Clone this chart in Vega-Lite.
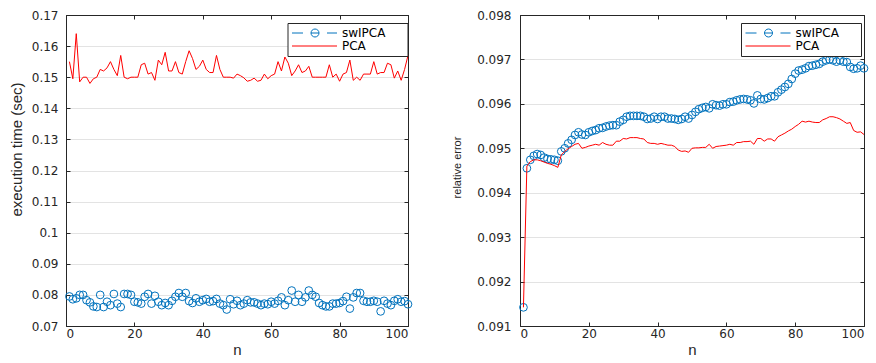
{
  "$schema": "https://vega.github.io/schema/vega-lite/v6.json",
  "background": "white",
  "padding": {"left": 8, "top": 8, "right": 0, "bottom": 0},
  "spacing": 36,
  "resolve": {"scale": {"color": "independent"}, "legend": {"color": "independent"}},
  "config": {
    "view": {"stroke": "#262626", "strokeWidth": 1},
    "axis": {
      "labelFont": "DejaVu Sans", "labelFontSize": 12, "labelColor": "#262626",
      "domainColor": "#262626", "tickColor": "#262626", "gridColor": "#e3e3e3",
      "titleColor": "#262626", "titleFont": "Liberation Sans", "titleFontWeight": "normal",
      "tickSize": -4, "labelAngle": 0
    },
    "legend": {
      "title": null, "orient": "none", "legendY": 8,
      "strokeColor": "#262626", "fillColor": "white", "padding": 4,
      "labelFont": "DejaVu Sans", "labelFontSize": 12, "labelColor": "#000000",
      "labelOffset": 38.5, "symbolSize": 100, "rowPadding": 1
    }
  },
  "datasets": {
    "time": [
      {"n":1,"swIPCA":0.0795,"PCA":0.155},{"n":2,"swIPCA":0.0786,"PCA":0.1495},{"n":3,"swIPCA":0.0789,"PCA":0.164},{"n":4,"swIPCA":0.080,"PCA":0.1485},{"n":5,"swIPCA":0.080,"PCA":0.150},
      {"n":6,"swIPCA":0.0783,"PCA":0.150},{"n":7,"swIPCA":0.0776,"PCA":0.148},{"n":8,"swIPCA":0.0763,"PCA":0.1495},{"n":9,"swIPCA":0.0761,"PCA":0.150},{"n":10,"swIPCA":0.080,"PCA":0.1525},
      {"n":11,"swIPCA":0.0761,"PCA":0.152},{"n":12,"swIPCA":0.0778,"PCA":0.153},{"n":13,"swIPCA":0.0767,"PCA":0.155},{"n":14,"swIPCA":0.0803,"PCA":0.1525},{"n":15,"swIPCA":0.0772,"PCA":0.1505},
      {"n":16,"swIPCA":0.0761,"PCA":0.157},{"n":17,"swIPCA":0.0803,"PCA":0.150},{"n":18,"swIPCA":0.0803,"PCA":0.1495},{"n":19,"swIPCA":0.080,"PCA":0.150},{"n":20,"swIPCA":0.0778,"PCA":0.150},
      {"n":21,"swIPCA":0.0776,"PCA":0.150},{"n":22,"swIPCA":0.0772,"PCA":0.154},{"n":23,"swIPCA":0.0794,"PCA":0.1545},{"n":24,"swIPCA":0.0803,"PCA":0.151},{"n":25,"swIPCA":0.0772,"PCA":0.1515},
      {"n":26,"swIPCA":0.0797,"PCA":0.149},{"n":27,"swIPCA":0.0778,"PCA":0.1555},{"n":28,"swIPCA":0.0767,"PCA":0.154},{"n":29,"swIPCA":0.0774,"PCA":0.158},{"n":30,"swIPCA":0.0767,"PCA":0.152},
      {"n":31,"swIPCA":0.0781,"PCA":0.152},{"n":32,"swIPCA":0.0794,"PCA":0.155},{"n":33,"swIPCA":0.0806,"PCA":0.1515},{"n":34,"swIPCA":0.0794,"PCA":0.151},{"n":35,"swIPCA":0.0806,"PCA":0.155},
      {"n":36,"swIPCA":0.078,"PCA":0.1585},{"n":37,"swIPCA":0.0774,"PCA":0.156},{"n":38,"swIPCA":0.0789,"PCA":0.1525},{"n":39,"swIPCA":0.0778,"PCA":0.1535},{"n":40,"swIPCA":0.0783,"PCA":0.1555},
      {"n":41,"swIPCA":0.0787,"PCA":0.1525},{"n":42,"swIPCA":0.0778,"PCA":0.1515},{"n":43,"swIPCA":0.078,"PCA":0.1515},{"n":44,"swIPCA":0.0787,"PCA":0.157},{"n":45,"swIPCA":0.0772,"PCA":0.1525},
      {"n":46,"swIPCA":0.0767,"PCA":0.150},{"n":47,"swIPCA":0.0753,"PCA":0.150},{"n":48,"swIPCA":0.0786,"PCA":0.150},{"n":49,"swIPCA":0.077,"PCA":0.1497},{"n":50,"swIPCA":0.0781,"PCA":0.151},
      {"n":51,"swIPCA":0.0767,"PCA":0.1505},{"n":52,"swIPCA":0.0772,"PCA":0.1498},{"n":53,"swIPCA":0.0783,"PCA":0.1487},{"n":54,"swIPCA":0.0776,"PCA":0.149},{"n":55,"swIPCA":0.0776,"PCA":0.1497},
      {"n":56,"swIPCA":0.0772,"PCA":0.1487},{"n":57,"swIPCA":0.0767,"PCA":0.149},{"n":58,"swIPCA":0.0772,"PCA":0.151},{"n":59,"swIPCA":0.077,"PCA":0.1495},{"n":60,"swIPCA":0.0778,"PCA":0.1505},
      {"n":61,"swIPCA":0.0772,"PCA":0.151},{"n":62,"swIPCA":0.0781,"PCA":0.155},{"n":63,"swIPCA":0.0792,"PCA":0.152},{"n":64,"swIPCA":0.0767,"PCA":0.1565},{"n":65,"swIPCA":0.0783,"PCA":0.1545},
      {"n":66,"swIPCA":0.0814,"PCA":0.1505},{"n":67,"swIPCA":0.0778,"PCA":0.152},{"n":68,"swIPCA":0.080,"PCA":0.154},{"n":69,"swIPCA":0.0778,"PCA":0.1515},{"n":70,"swIPCA":0.0792,"PCA":0.152},
      {"n":71,"swIPCA":0.0814,"PCA":0.1535},{"n":72,"swIPCA":0.080,"PCA":0.150},{"n":73,"swIPCA":0.0794,"PCA":0.150},{"n":74,"swIPCA":0.0774,"PCA":0.150},{"n":75,"swIPCA":0.0767,"PCA":0.150},
      {"n":76,"swIPCA":0.0763,"PCA":0.150},{"n":77,"swIPCA":0.0763,"PCA":0.154},{"n":78,"swIPCA":0.0772,"PCA":0.150},{"n":79,"swIPCA":0.0772,"PCA":0.151},{"n":80,"swIPCA":0.0774,"PCA":0.1487},
      {"n":81,"swIPCA":0.078,"PCA":0.151},{"n":82,"swIPCA":0.0794,"PCA":0.1515},{"n":83,"swIPCA":0.0756,"PCA":0.1555},{"n":84,"swIPCA":0.0792,"PCA":0.149},{"n":85,"swIPCA":0.0806,"PCA":0.150},
      {"n":86,"swIPCA":0.0806,"PCA":0.149},{"n":87,"swIPCA":0.0781,"PCA":0.151},{"n":88,"swIPCA":0.0778,"PCA":0.151},{"n":89,"swIPCA":0.0778,"PCA":0.151},{"n":90,"swIPCA":0.0781,"PCA":0.155},
      {"n":91,"swIPCA":0.0778,"PCA":0.151},{"n":92,"swIPCA":0.0747,"PCA":0.1515},{"n":93,"swIPCA":0.0781,"PCA":0.1515},{"n":94,"swIPCA":0.0772,"PCA":0.1545},{"n":95,"swIPCA":0.0767,"PCA":0.154},
      {"n":96,"swIPCA":0.0781,"PCA":0.1497},{"n":97,"swIPCA":0.0786,"PCA":0.152},{"n":98,"swIPCA":0.0778,"PCA":0.149},{"n":99,"swIPCA":0.078,"PCA":0.1525},{"n":100,"swIPCA":0.077,"PCA":0.157}
    ],
    "err": [
      {"n":1,"swIPCA":0.09142,"PCA":0.09142},{"n":2,"swIPCA":0.09455,"PCA":0.0946},{"n":3,"swIPCA":0.09474,"PCA":0.0947},{"n":4,"swIPCA":0.09483,"PCA":0.09474},{"n":5,"swIPCA":0.09487,"PCA":0.09474},
      {"n":6,"swIPCA":0.09485,"PCA":0.09472},{"n":7,"swIPCA":0.09479,"PCA":0.09469},{"n":8,"swIPCA":0.09476,"PCA":0.09466},{"n":9,"swIPCA":0.09475,"PCA":0.09464},{"n":10,"swIPCA":0.09474,"PCA":0.09461},
      {"n":11,"swIPCA":0.09472,"PCA":0.09457},{"n":12,"swIPCA":0.09493,"PCA":0.09485},{"n":13,"swIPCA":0.0950,"PCA":0.09493},{"n":14,"swIPCA":0.09511,"PCA":0.09499},{"n":15,"swIPCA":0.09519,"PCA":0.09504},
      {"n":16,"swIPCA":0.0953,"PCA":0.09509},{"n":17,"swIPCA":0.09536,"PCA":0.09511},{"n":18,"swIPCA":0.09531,"PCA":0.095},{"n":19,"swIPCA":0.0953,"PCA":0.09502},{"n":20,"swIPCA":0.09536,"PCA":0.09505},
      {"n":21,"swIPCA":0.09539,"PCA":0.09507},{"n":22,"swIPCA":0.09541,"PCA":0.09509},{"n":23,"swIPCA":0.09545,"PCA":0.09507},{"n":24,"swIPCA":0.09546,"PCA":0.09513},{"n":25,"swIPCA":0.09549,"PCA":0.09509},
      {"n":26,"swIPCA":0.09551,"PCA":0.09507},{"n":27,"swIPCA":0.09552,"PCA":0.09507},{"n":28,"swIPCA":0.09552,"PCA":0.09516},{"n":29,"swIPCA":0.0956,"PCA":0.09516},{"n":30,"swIPCA":0.09564,"PCA":0.09522},
      {"n":31,"swIPCA":0.09571,"PCA":0.09521},{"n":32,"swIPCA":0.09573,"PCA":0.09524},{"n":33,"swIPCA":0.09573,"PCA":0.09524},{"n":34,"swIPCA":0.09573,"PCA":0.09524},{"n":35,"swIPCA":0.09573,"PCA":0.09522},
      {"n":36,"swIPCA":0.09571,"PCA":0.09521},{"n":37,"swIPCA":0.09566,"PCA":0.09513},{"n":38,"swIPCA":0.09567,"PCA":0.09511},{"n":39,"swIPCA":0.09571,"PCA":0.09511},{"n":40,"swIPCA":0.09566,"PCA":0.09509},
      {"n":41,"swIPCA":0.09571,"PCA":0.09511},{"n":42,"swIPCA":0.09571,"PCA":0.09509},{"n":43,"swIPCA":0.09567,"PCA":0.09507},{"n":44,"swIPCA":0.09567,"PCA":0.09507},{"n":45,"swIPCA":0.09566,"PCA":0.09504},
      {"n":46,"swIPCA":0.09564,"PCA":0.09496},{"n":47,"swIPCA":0.09566,"PCA":0.09493},{"n":48,"swIPCA":0.09571,"PCA":0.09494},{"n":49,"swIPCA":0.09567,"PCA":0.09491},{"n":50,"swIPCA":0.09575,"PCA":0.095},
      {"n":51,"swIPCA":0.09582,"PCA":0.09501},{"n":52,"swIPCA":0.09588,"PCA":0.09501},{"n":53,"swIPCA":0.09591,"PCA":0.09502},{"n":54,"swIPCA":0.09593,"PCA":0.09502},{"n":55,"swIPCA":0.0959,"PCA":0.09509},
      {"n":56,"swIPCA":0.09599,"PCA":0.095},{"n":57,"swIPCA":0.09597,"PCA":0.09504},{"n":58,"swIPCA":0.09596,"PCA":0.09505},{"n":59,"swIPCA":0.09599,"PCA":0.09506},{"n":60,"swIPCA":0.09599,"PCA":0.09507},
      {"n":61,"swIPCA":0.09604,"PCA":0.09509},{"n":62,"swIPCA":0.09605,"PCA":0.09507},{"n":63,"swIPCA":0.09608,"PCA":0.09513},{"n":64,"swIPCA":0.0961,"PCA":0.09513},{"n":65,"swIPCA":0.09611,"PCA":0.09515},
      {"n":66,"swIPCA":0.0961,"PCA":0.09515},{"n":67,"swIPCA":0.09608,"PCA":0.09516},{"n":68,"swIPCA":0.09601,"PCA":0.09509},{"n":69,"swIPCA":0.09619,"PCA":0.09522},{"n":70,"swIPCA":0.09611,"PCA":0.09522},
      {"n":71,"swIPCA":0.0961,"PCA":0.09516},{"n":72,"swIPCA":0.09613,"PCA":0.09521},{"n":73,"swIPCA":0.09617,"PCA":0.09521},{"n":74,"swIPCA":0.09617,"PCA":0.09516},{"n":75,"swIPCA":0.09626,"PCA":0.09526},
      {"n":76,"swIPCA":0.09632,"PCA":0.0953},{"n":77,"swIPCA":0.09638,"PCA":0.09534},{"n":78,"swIPCA":0.09645,"PCA":0.09539},{"n":79,"swIPCA":0.09656,"PCA":0.09543},{"n":80,"swIPCA":0.09668,"PCA":0.09549},
      {"n":81,"swIPCA":0.09675,"PCA":0.09554},{"n":82,"swIPCA":0.09677,"PCA":0.09561},{"n":83,"swIPCA":0.0968,"PCA":0.09559},{"n":84,"swIPCA":0.09685,"PCA":0.09561},{"n":85,"swIPCA":0.09686,"PCA":0.09559},
      {"n":86,"swIPCA":0.09688,"PCA":0.09558},{"n":87,"swIPCA":0.0969,"PCA":0.09558},{"n":88,"swIPCA":0.09695,"PCA":0.09564},{"n":89,"swIPCA":0.09698,"PCA":0.09567},{"n":90,"swIPCA":0.097,"PCA":0.09571},
      {"n":91,"swIPCA":0.09698,"PCA":0.09571},{"n":92,"swIPCA":0.09695,"PCA":0.09569},{"n":93,"swIPCA":0.09698,"PCA":0.09566},{"n":94,"swIPCA":0.09695,"PCA":0.09561},{"n":95,"swIPCA":0.09694,"PCA":0.09556},
      {"n":96,"swIPCA":0.09683,"PCA":0.09558},{"n":97,"swIPCA":0.09679,"PCA":0.0954},{"n":98,"swIPCA":0.0968,"PCA":0.09536},{"n":99,"swIPCA":0.09686,"PCA":0.09537},{"n":100,"swIPCA":0.0968,"PCA":0.09531}
    ]
  },
  "hconcat": [
    {
      "width": 342, "height": 311,
      "data": {"name": "time"},
      "resolve": {"scale": {"x": "independent", "y": "independent"}},
      "layer": [
        {
          "mark": {"type": "point", "shape": "circle", "filled": false, "size": 60, "strokeWidth": 1, "opacity": 1},
          "encoding": {
            "x": {"field": "n", "type": "quantitative", "scale": {"domain": [0, 100], "nice": false},
                  "axis": {"orient": "bottom", "values": [0,20,40,60,80,100], "grid": false, "labelPadding": 6, "title": "n", "titleFontSize": 15, "titlePadding": 3}},
            "y": {"field": "swIPCA", "type": "quantitative", "scale": {"domain": [0.07, 0.17], "nice": false, "zero": false},
                  "axis": {"orient": "left", "values": [0.07,0.08,0.09,0.1,0.11,0.12,0.13,0.14,0.15,0.16,0.17], "format": "~g", "grid": true, "labelPadding": 12, "title": "execution time (sec)", "titleFontSize": 15, "titlePadding": 7, "titleY": 134}},
            "color": {"datum": "swIPCA", "scale": {"domain": ["swIPCA", "PCA"], "range": ["#0072BD", "#FF0000"]},
              "legend": {
                "legendX": 221.5,
                "labelExpr": "datum.label + '\u2800\u2800'",
                "encode": {"symbols": {"update": {
                  "shape": {"signal": "datum.value === 'PCA' ? 'M-1.1,0H7.9' : 'M-1.1,0H1.1M2.7,0H4.3M5.9,0H7.9M4.3,0A0.8,0.8,0,1,1,2.7,0A0.8,0.8,0,1,1,4.3,0'"},
                  "fill": {"value": "transparent"}, "strokeWidth": {"value": 1}, "opacity": {"value": 1}}}}
              }}
          }
        },
        {
          "mark": {"type": "line", "strokeWidth": 1},
          "encoding": {
            "x": {"field": "n", "type": "quantitative", "scale": {"domain": [0, 100], "nice": false},
                  "axis": {"orient": "top", "values": [0,20,40,60,80,100], "labels": false, "grid": false, "title": null}},
            "y": {"field": "PCA", "type": "quantitative", "scale": {"domain": [0.07, 0.17], "nice": false, "zero": false},
                  "axis": {"orient": "right", "values": [0.07,0.08,0.09,0.1,0.11,0.12,0.13,0.14,0.15,0.16,0.17], "labels": false, "grid": false, "title": null}},
            "color": {"datum": "PCA",
              "legend": {
                "legendX": 221.5,
                "labelExpr": "datum.label + '\u2800\u2800'",
                "encode": {"symbols": {"update": {
                  "shape": {"signal": "datum.value === 'PCA' ? 'M-1.1,0H7.9' : 'M-1.1,0H1.1M2.7,0H4.3M5.9,0H7.9M4.3,0A0.8,0.8,0,1,1,2.7,0A0.8,0.8,0,1,1,4.3,0'"},
                  "fill": {"value": "transparent"}, "strokeWidth": {"value": 1}, "opacity": {"value": 1}}}}
              }}
          }
        }
      ]
    },
    {
      "width": 344, "height": 311,
      "data": {"name": "err"},
      "resolve": {"scale": {"x": "independent", "y": "independent"}},
      "layer": [
        {
          "mark": {"type": "point", "shape": "circle", "filled": false, "size": 60, "strokeWidth": 1, "opacity": 1},
          "encoding": {
            "x": {"field": "n", "type": "quantitative", "scale": {"domain": [0, 100], "nice": false},
                  "axis": {"orient": "bottom", "values": [0,20,40,60,80,100], "grid": false, "labelPadding": 6, "title": "n", "titleFontSize": 15, "titlePadding": 3}},
            "y": {"field": "swIPCA", "type": "quantitative", "scale": {"domain": [0.091, 0.098], "nice": false, "zero": false},
                  "axis": {"orient": "left", "values": [0.091,0.092,0.093,0.094,0.095,0.096,0.097,0.098], "format": "~g", "grid": true, "labelPadding": 13, "title": "relative error", "titleFontSize": 11, "titlePadding": 14, "titleY": 152}},
            "color": {"datum": "swIPCA", "scale": {"domain": ["swIPCA", "PCA"], "range": ["#0072BD", "#FF0000"]},
              "legend": {
                "legendX": 221,
                "labelExpr": "datum.label + '\u2800\u2800'",
                "encode": {"symbols": {"update": {
                  "shape": {"signal": "datum.value === 'PCA' ? 'M-1.1,0H7.9' : 'M-1.1,0H1.1M2.7,0H4.3M5.9,0H7.9M4.3,0A0.8,0.8,0,1,1,2.7,0A0.8,0.8,0,1,1,4.3,0'"},
                  "fill": {"value": "transparent"}, "strokeWidth": {"value": 1}, "opacity": {"value": 1}}}}
              }}
          }
        },
        {
          "mark": {"type": "line", "strokeWidth": 1},
          "encoding": {
            "x": {"field": "n", "type": "quantitative", "scale": {"domain": [0, 100], "nice": false},
                  "axis": {"orient": "top", "values": [0,20,40,60,80,100], "labels": false, "grid": false, "title": null}},
            "y": {"field": "PCA", "type": "quantitative", "scale": {"domain": [0.091, 0.098], "nice": false, "zero": false},
                  "axis": {"orient": "right", "values": [0.091,0.092,0.093,0.094,0.095,0.096,0.097,0.098], "labels": false, "grid": false, "title": null}},
            "color": {"datum": "PCA",
              "legend": {
                "legendX": 221,
                "labelExpr": "datum.label + '\u2800\u2800'",
                "encode": {"symbols": {"update": {
                  "shape": {"signal": "datum.value === 'PCA' ? 'M-1.1,0H7.9' : 'M-1.1,0H1.1M2.7,0H4.3M5.9,0H7.9M4.3,0A0.8,0.8,0,1,1,2.7,0A0.8,0.8,0,1,1,4.3,0'"},
                  "fill": {"value": "transparent"}, "strokeWidth": {"value": 1}, "opacity": {"value": 1}}}}
              }}
          }
        }
      ]
    }
  ]
}
